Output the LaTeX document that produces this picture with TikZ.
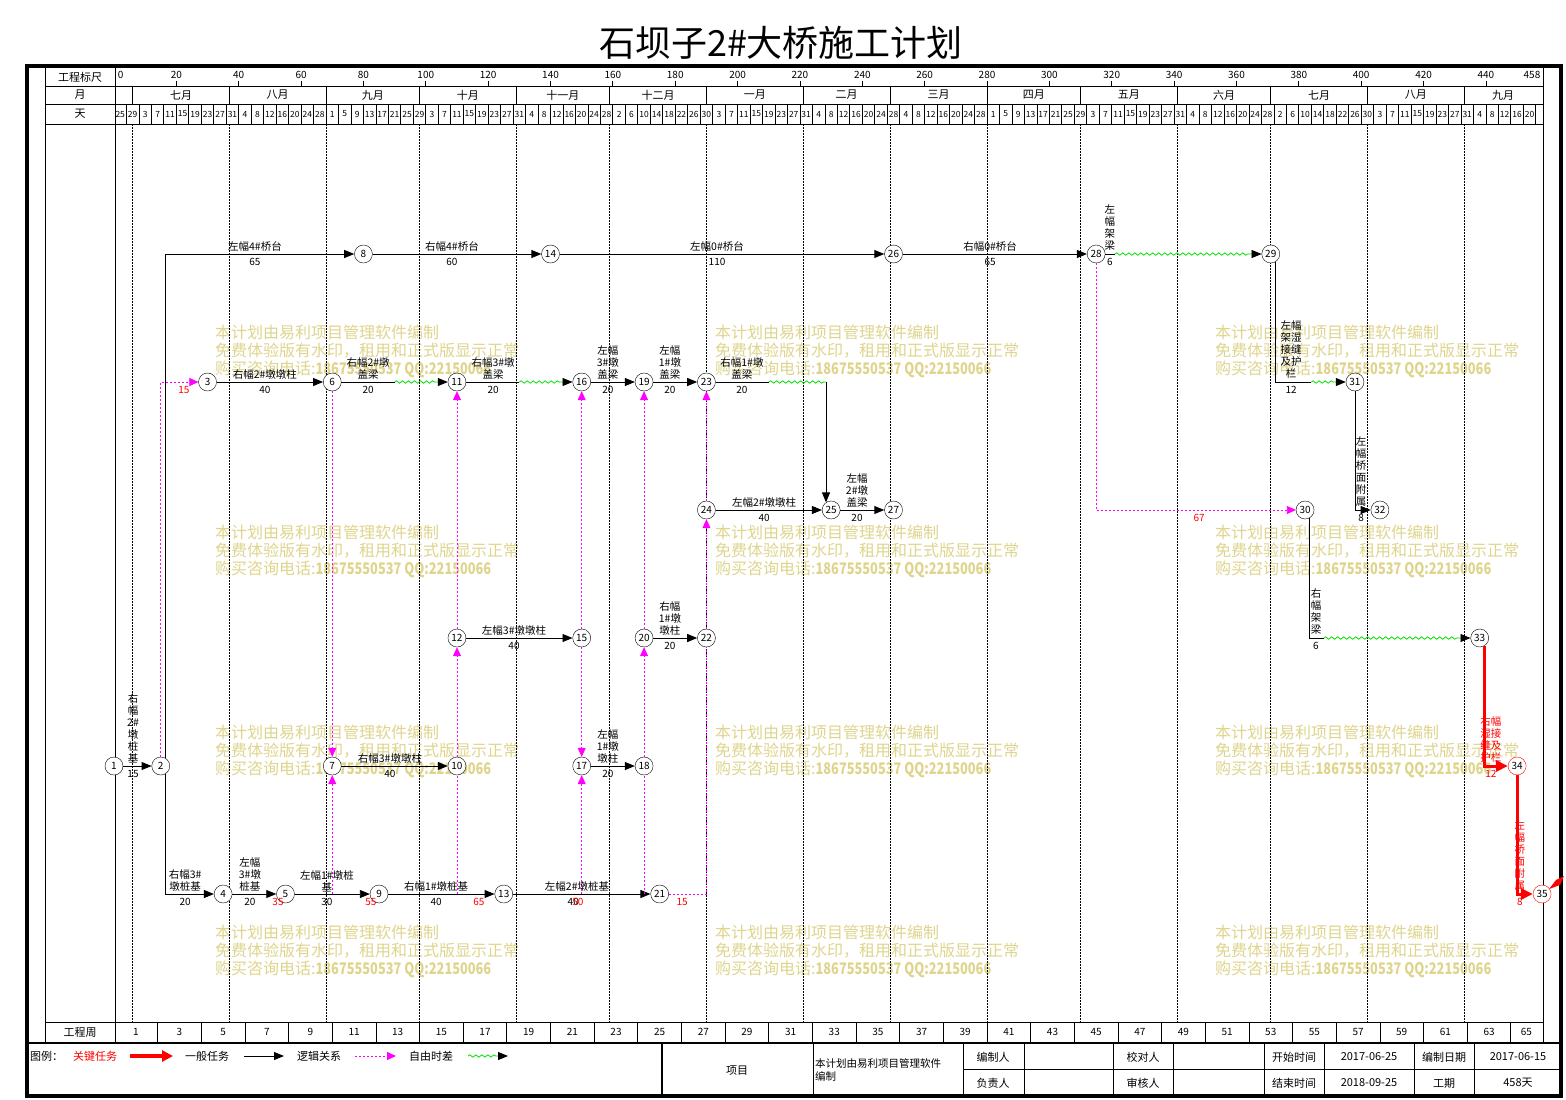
\documentclass[tikz,border=0pt]{standalone}
\usepackage{fontspec}
\setmainfont{Noto Sans CJK SC}
\usetikzlibrary{arrows.meta,decorations.pathmorphing,calc}
\definecolor{critred}{RGB}{255,0,0}
\definecolor{logicmag}{RGB}{255,0,255}
\definecolor{floatgrn}{RGB}{0,225,0}
\definecolor{wmark}{RGB}{222,212,140}

\begin{document}
\begin{tikzpicture}[x=1pt,y=-1pt,
  rule/.style={line width=0.8pt},
  mgrid/.style={line width=0.7pt, dash pattern=on 1.5pt off 1.5pt},
  evt/.style={circle, draw, fill=white, minimum size=18pt, inner sep=0pt, font=\fontsize{10}{10}\selectfont},
  task/.style={draw, line width=0.9pt, -{Triangle[length=10pt,width=8pt]}},
  crittask/.style={draw=critred, line width=3pt, -{Triangle[length=12pt,width=11pt]}},
  logicln/.style={draw=logicmag, line width=0.8pt, dash pattern=on 2pt off 2pt},
  logic/.style={logicln, -{Triangle[length=9pt,width=8pt]}},
  fltln/.style={draw=floatgrn, line width=0.8pt, decorate, decoration={snake, amplitude=1.2pt, segment length=6pt}},
  flt/.style={fltln, decoration={snake, amplitude=1.2pt, segment length=6pt, post length=11pt}, -{Triangle[length=10pt,width=8pt,color=black]}},
  lbl/.style={font=\fontsize{10.5}{12}\selectfont, align=center, inner sep=1pt, anchor=south},
  dur/.style={font=\fontsize{10}{11}\selectfont, inner sep=1pt, anchor=north},
  flo/.style={dur, text=critred},
  hdr/.style={font=\fontsize{11}{12}\selectfont, inner sep=0pt},
  sclbl/.style={font=\fontsize{10}{10}\selectfont, inner sep=0pt},
  daylbl/.style={font=\fontsize{8.5}{9}\selectfont, inner sep=0pt},
  wm/.style={text=wmark, font=\fontsize{16}{18}\selectfont, align=left, anchor=north west, inner sep=0pt}]
\useasboundingbox (0,0) rectangle (1566,1100);

% title
\node[font=\fontsize{36}{38}\selectfont, inner sep=0pt] (title) at (781,43) {石坝子2\#大桥施工计划};

% watermarks
\foreach \x in {215,715,1215}
  \foreach \y in {325,525,725,925}
    \node[wm] (wm\x-\y) at (\x,\y) {本计划由易利项目管理软件编制\\免费体验版有水印，租用和正式版显示正常\\购买咨询电话:\scalebox{0.8}[1]{\textbf{18675550537 QQ:22150066}}};

% frame and table lines
\draw[line width=4pt] (27,66) rectangle (1561,1096);
\draw[rule] (45,66) -- (45,1043);
\draw[rule] (115,66) -- (115,1043);
\draw[rule] (1543,66) -- (1543,1043);
\foreach \y in {86,104,124,1022}
  \draw[rule] (45,\y) -- (1543,\y);
\draw[line width=2pt] (27,1043) -- (1561,1043);
\draw[line width=1.5pt] (662,1043) -- (662,1096);
\foreach \x in {813,963,1024,1113,1173,1264,1324,1414,1474}
  \draw[rule] (\x,1043) -- (\x,1096);
\draw[rule] (963,1069) -- (1561,1069);

% row heads
\node[hdr] (hs) at (80,77) {工程标尺};
\node[hdr] (hm) at (80,95) {月};
\node[hdr] (hd) at (80,114) {天};
\node[hdr] (hw) at (80,1032) {工程周};

\begin{scope}[shift={(114pt,0pt)}, x=3.118pt]
% scale row
\foreach \d in {20,40,...,440} {
  \draw[rule] (\d,81) -- (\d,86);
  \node[sclbl] (s\d) at (\d,75) {\d};
}
\node[sclbl, anchor=west] (s0) at (1.2,75) {0};
\node[sclbl, anchor=east] (s458) at (457.5,75) {458};
% months
\foreach \d in {6,37,68,98,129,159,190,221,249,280,310,341,371,402,433} {
  \draw[rule] (\d,86) -- (\d,104);
  \draw[mgrid] (\d,124) -- (\d,1022);
}
\foreach \m/\c [count=\i] in {七月/21.5, 八月/52.5, 九月/83, 十月/113.5, 十一月/144, 十二月/174.5, 一月/205.5, 二月/235, 三月/264.5, 四月/295, 五月/325.5, 六月/356, 七月/386.5, 八月/417.5, 九月/445.5}
  \node[hdr] (m\i) at (\c,95) {\m};
% days
\foreach \d in {4,8,...,456}
  \draw[rule] (\d,104) -- (\d,124);
\foreach \dm [count=\k from 0] in {25,29,3,7,11,15,19,23,27,31,4,8,12,16,20,24,28,1,5,9,13,17,21,25,29,3,7,11,15,19,23,27,31,4,8,12,16,20,24,28,2,6,10,14,18,22,26,30,3,7,11,15,19,23,27,31,4,8,12,16,20,24,28,4,8,12,16,20,24,28,1,5,9,13,17,21,25,29,3,7,11,15,19,23,27,31,4,8,12,16,20,24,28,2,6,10,14,18,22,26,30,3,7,11,15,19,23,27,31,4,8,12,16,20}
  \node[daylbl] (dy\k) at ({4*\k+2},114) {\dm};
% weeks
\foreach \j in {1,...,32}
  \draw[rule] (14*\j,1022) -- (14*\j,1043);
\foreach \j [evaluate=\j as \w using int(2*\j+1)] in {0,...,31}
  \node[sclbl] (wk\w) at ({14*\j+7},1032) {\w};
\node[sclbl] (wk65) at (453,1032) {65};

% events
\foreach \n/\d/\r in {1/0/766, 2/15/766, 3/30/382, 4/35/894, 5/55/894, 6/70/382, 7/70/766, 8/80/254, 9/85/894, 10/110/766, 11/110/382, 12/110/638, 13/125/894, 14/140/254, 15/150/638, 16/150/382, 17/150/766, 18/170/766, 19/170/382, 20/170/638, 21/175/894, 22/190/638, 23/190/382, 24/190/510, 25/230/510, 26/250/254, 27/250/510, 28/315/254, 29/371/254, 30/382/510, 31/398/382, 32/406/510, 33/438/638}
  \node[evt] (n\n) at (\d,\r) {\n};
\node[evt, draw=critred] (n34) at (450,766) {34};
\node[evt, draw=critred] (n35) at (458,894) {35};

% tasks
\draw[task] (n1) -- (n2);
\draw[task] (n2.56) |- (n8);
\draw[task] (n2.-56) |- (n4);
\draw[task] (n8) -- (n14);
\draw[task] (n14) -- (n26);
\draw[task] (n26) -- (n28);
\draw (n28) -- (321,254) coordinate (fl1);
\draw[flt] (fl1) -- (n29);
\draw[task] (n3) -- (n6);
\draw (n6) -- (90,382) coordinate (fl2);
\draw[flt] (fl2) -- (n11);
\draw (n11) -- (130,382) coordinate (fl3);
\draw[flt] (fl3) -- (n16);
\draw[task] (n16) -- (n19);
\draw[task] (n19) -- (n23);
\draw (n23) -- (210,382) coordinate (fl4);
\coordinate (fl5) at (n25.124 |- n23);
\draw[fltln] (fl4) -- (fl5);
\draw[task] (fl5) -- (n25.124);
\draw (n29.-64) |- (384,382) coordinate (fl6);
\draw[flt] (fl6) -- (n31);
\draw[task] (n31) |- (n32);
\draw[task] (n24) -- (n25);
\draw[task] (n25) -- (n27);
\draw (n30.-64) |- (388,638) coordinate (fl7);
\draw[flt] (fl7) -- (n33);
\draw[task] (n12) -- (n15);
\draw[task] (n20) -- (n22);
\draw[task] (n7) -- (n10);
\draw[task] (n17) -- (n18);
\draw[task] (n4) -- (n5);
\draw[task] (n5) -- (n9);
\draw[task] (n9) -- (n13);
\draw[task] (n13) -- (n21);
% critical path
\draw[crittask] (n33.-60) |- (n34);
\draw[crittask] (n34) |- (n35);

% logic links
\coordinate (lk1) at (70,894);
\coordinate (lk2) at (110,894);
\coordinate (lk3) at (150,894);
\coordinate (lk4) at (170,894);
\coordinate (lk5) at (190,894);
\draw[logic] (n2.north) |- (n3);
\draw[logic] (n28) |- (n30);
\draw[logic] (n6) -- (n7);
\draw[logic] (lk1) -- (n7);
\draw[logicln] (lk2) -- (n10);
\draw[logic] (n10) -- (n12);
\draw[logic] (n12) -- (n11);
\draw[logic] (n15) -- (n16);
\draw[logic] (n15) -- (n17);
\draw[logic] (lk3) -- (n17);
\draw[logicln] (lk4) -- (n18);
\draw[logic] (n18) -- (n20);
\draw[logic] (n20) -- (n19);
\draw[logicln] (n21) -- (lk5) -- (n22);
\draw[logic] (n22) -- (n24);
\draw[logic] (n24) -- (n23);

% labels, row 254
\node[lbl] (t2x8) at (45.2,253) {左幅4\#桥台};
\node[dur] (d2x8) at (45.2,257) {65};
\node[lbl] (t8x14) at (108.4,253) {右幅4\#桥台};
\node[dur] (d8x14) at (108.4,257) {60};
\node[lbl] (t14x26) at (193.4,253) {左幅0\#桥台};
\node[dur] (d14x26) at (193.4,257) {110};
\node[lbl] (t26x28) at (281,253) {右幅0\#桥台};
\node[dur] (d26x28) at (281,257) {65};
\node[lbl] (t28x29) at (319.4,252) {左\\幅\\架\\梁};
\node[dur] (d28x29) at (319.4,257) {6};
\node[flo] (f28x30) at (348,513) {67};
% row 382
\node[flo] (f2x3) at (22.4,385) {15};
\node[lbl] (t3x6) at (48.4,381) {右幅2\#墩墩柱};
\node[dur] (d3x6) at (48.4,385) {40};
\node[lbl] (t6x11) at (81.5,381) {右幅2\#墩\\盖梁};
\node[dur] (d6x11) at (81.5,385) {20};
\node[lbl] (t11x16) at (121.6,381) {右幅3\#墩\\盖梁};
\node[dur] (d11x16) at (121.6,385) {20};
\node[lbl] (t16x19) at (158.4,381) {左幅\\3\#墩\\盖梁};
\node[dur] (d16x19) at (158.4,385) {20};
\node[lbl] (t19x23) at (178.3,381) {左幅\\1\#墩\\盖梁};
\node[dur] (d19x23) at (178.3,385) {20};
\node[lbl] (t23x25) at (201.4,381) {右幅1\#墩\\盖梁};
\node[dur] (d23x25) at (201.4,385) {20};
\node[lbl] (t29x31) at (377.5,380) {左幅\\架湿\\接缝\\及护\\栏};
\node[dur] (d29x31) at (377.5,385) {12};
% row 510
\node[lbl] (t24x25) at (208.5,509) {左幅2\#墩墩柱};
\node[dur] (d24x25) at (208.5,513) {40};
\node[lbl] (t25x27) at (238.3,509) {左幅\\2\#墩\\盖梁};
\node[dur] (d25x27) at (238.3,513) {20};
\node[lbl] (t31x32) at (400,508) {左\\幅\\桥\\面\\附\\属};
\node[dur] (d31x32) at (400,513) {8};
% row 638
\node[lbl] (t12x15) at (128.3,637) {左幅3\#墩墩柱};
\node[dur] (d12x15) at (128.3,641) {40};
\node[lbl] (t20x22) at (178.3,637) {右幅\\1\#墩\\墩柱};
\node[dur] (d20x22) at (178.3,641) {20};
\node[lbl] (t30x33) at (385.5,636) {右\\幅\\架\\梁};
\node[dur] (d30x33) at (385.5,641) {6};
% row 766
\node[lbl] (t1x2) at (6.1,764) {右\\幅\\2\#\\墩\\桩\\基};
\node[dur] (d1x2) at (6.1,769) {15};
\node[lbl] (t7x10) at (88.5,765) {右幅3\#墩墩柱};
\node[dur] (d7x10) at (88.5,769) {40};
\node[lbl] (t17x18) at (158.4,765) {左幅\\1\#墩\\墩柱};
\node[dur] (d17x18) at (158.4,769) {20};
\node[lbl, text=critred] (t33x34) at (441.6,764) {右幅\\湿接\\缝及\\护栏};
\node[flo] (d33x34) at (441.6,769) {12};
% row 894
\node[lbl] (t2x4) at (22.8,893) {右幅3\#\\墩桩基};
\node[dur] (d2x4) at (22.8,897) {20};
\node[lbl] (t4x5) at (43.6,893) {左幅\\3\#墩\\桩基};
\node[dur] (d4x5) at (43.6,897) {20};
\node[flo] (f5) at (52.6,897) {35};
\node[lbl] (t5x9) at (68.3,893) {左幅1\#墩桩\\基};
\node[dur] (d5x9) at (68.3,897) {30};
\node[flo] (f9) at (82.4,897) {55};
\node[lbl] (t9x13) at (103.3,893) {右幅1\#墩桩基};
\node[dur] (d9x13) at (103.3,897) {40};
\node[flo] (f13) at (117,897) {65};
\node[lbl] (t13x21) at (148.5,893) {左幅2\#墩桩基};
\node[dur] (d13x21) at (147.3,897) {40};
\node[flo] (f13x21) at (148.8,897) {50};
\node[flo] (f21) at (182.2,897) {15};
\node[lbl, text=critred] (t34x35) at (450.9,892) {左\\幅\\桥\\面\\附\\属};
\node[flo] (d34x35) at (450.9,897) {8};
\end{scope}

% stub after the last event
\fill[critred] (1549,889) -- (1556,880) -- (1564,876) -- (1560,885) -- cycle;

% legend
\node[hdr, anchor=west] (lg0) at (30,1056) {图例：};
\node[hdr, text=critred] (lg1) at (95,1056) {关键任务};
\coordinate (la1) at (130,1056); \coordinate (lb1) at (173,1056);
\draw[draw=critred, line width=3.5pt, -{Triangle[length=11pt,width=11pt]}] (la1) -- (lb1);
\node[hdr] (lg2) at (207,1056) {一般任务};
\coordinate (la2) at (244,1056); \coordinate (lb2) at (284,1056);
\draw[task] (la2) -- (lb2);
\node[hdr] (lg3) at (319,1056) {逻辑关系};
\coordinate (la3) at (355,1056); \coordinate (lb3) at (396,1056);
\draw[logic] (la3) -- (lb3);
\node[hdr] (lg4) at (431,1056) {自由时差};
\coordinate (la4) at (468,1056); \coordinate (lb4) at (508,1056);
\draw[flt] (la4) -- (lb4);

% info table
\node[hdr] (tb1) at (737,1071) {项目};
\node[hdr, anchor=north west, align=left, font=\fontsize{10.5}{13}\selectfont] (tb2) at (815,1058) {本计划由易利项目管理软件\\编制};
\node[hdr] (tb3) at (993,1057) {编制人};
\node[hdr] (tb4) at (993,1083) {负责人};
\node[hdr] (tb5) at (1143,1057) {校对人};
\node[hdr] (tb6) at (1143,1083) {审核人};
\node[hdr] (tb7) at (1294,1057) {开始时间};
\node[hdr] (tb8) at (1294,1083) {结束时间};
\node[hdr] (tb9) at (1369,1057) {2017-06-25};
\node[hdr] (tb10) at (1369,1083) {2018-09-25};
\node[hdr] (tb11) at (1444,1057) {编制日期};
\node[hdr] (tb12) at (1444,1083) {工期};
\node[hdr] (tb13) at (1518,1057) {2017-06-15};
\node[hdr] (tb14) at (1518,1083) {458天};
\end{tikzpicture}
\end{document}
